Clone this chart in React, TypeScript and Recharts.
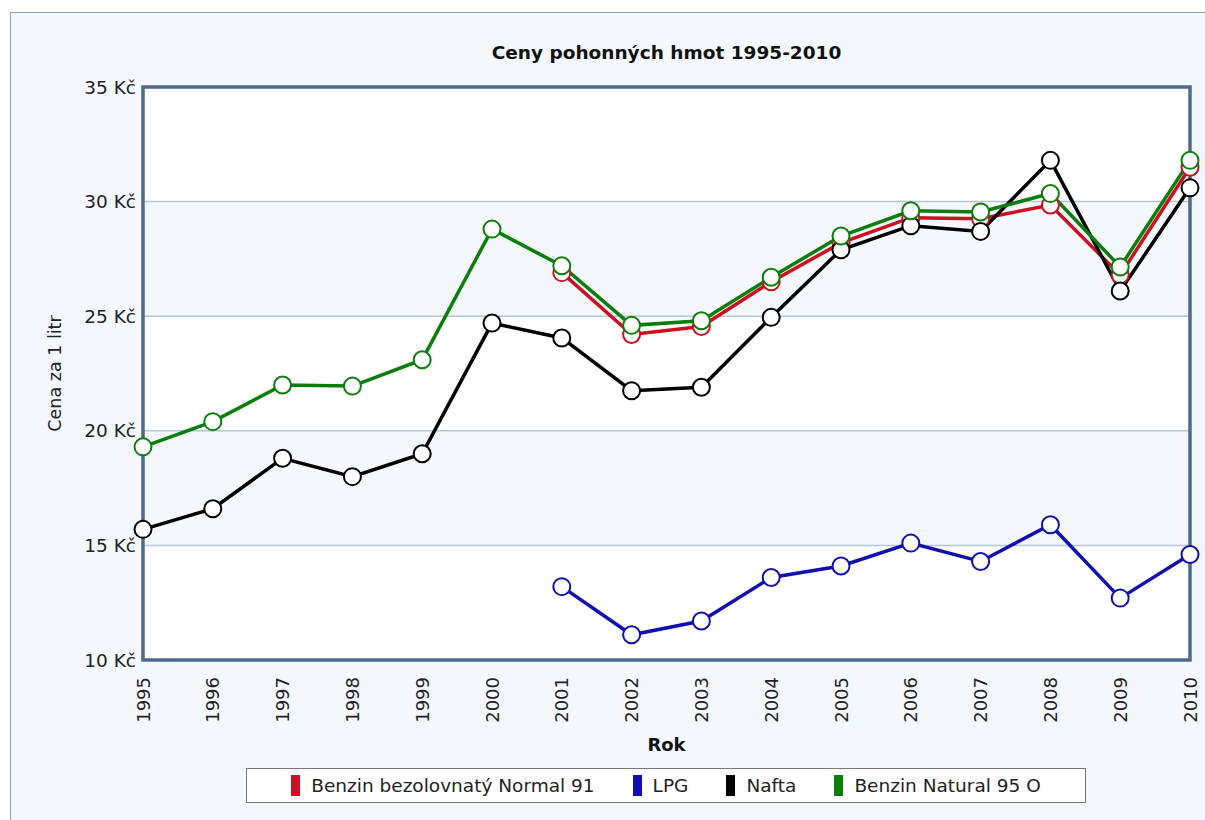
import { LineChart, Line, XAxis, YAxis, CartesianGrid, ReferenceArea } from 'recharts';

const years = [1995, 1996, 1997, 1998, 1999, 2000, 2001, 2002, 2003, 2004, 2005, 2006, 2007, 2008, 2009, 2010];
const normal91 = [null, null, null, null, null, null, 26.9, 24.2, 24.55, 26.5, 28.2, 29.3, 29.25, 29.85, 26.8, 31.5];
const lpg = [null, null, null, null, null, null, 13.2, 11.1, 11.7, 13.6, 14.1, 15.1, 14.3, 15.9, 12.7, 14.6];
const nafta = [15.7, 16.6, 18.8, 18.0, 19.0, 24.7, 24.05, 21.75, 21.9, 24.95, 27.9, 28.95, 28.7, 31.8, 26.1, 30.6];
const natural95 = [19.3, 20.4, 22.0, 21.95, 23.1, 28.8, 27.2, 24.6, 24.8, 26.7, 28.5, 29.6, 29.55, 30.35, 27.15, 31.8];
const yTicks = [10, 15, 20, 25, 30, 35];

const series = [
  { key: 'normal91', name: 'Benzin bezolovnatý Normal 91', color: '#cc1020' },
  { key: 'lpg', name: 'LPG', color: '#1010b0' },
  { key: 'nafta', name: 'Nafta', color: '#000000' },
  { key: 'natural95', name: 'Benzin Natural 95 O', color: '#0a7d0a' },
];

const data = years.map((rok, i) => ({
  rok,
  normal91: normal91[i],
  lpg: lpg[i],
  nafta: nafta[i],
  natural95: natural95[i],
}));

const font = '"DejaVu Sans", Verdana, sans-serif';

const YearTick = ({ x, y, payload }: any) => (
  <text
    x={x}
    y={y + 9}
    transform={`rotate(-90 ${x} ${y + 9})`}
    textAnchor="end"
    dominantBaseline="central"
    fontSize={18}
    fontFamily={font}
    fill="#222"
  >
    {payload.value}
  </text>
);

export default function App() {
  return (
    <div style={{ position: 'absolute', left: 0, top: 0, width: 1205, height: 820, overflow: 'hidden', background: '#fff' }}>
      <div
        style={{
          position: 'absolute',
          left: 10,
          top: 12,
          width: 1210,
          height: 820,
          background: '#f4f8fc',
          border: '1px solid #8ea6c6',
        }}
      />
      <div
        style={{
          position: 'absolute',
          left: 143,
          width: 1047,
          top: 42,
          textAlign: 'center',
          fontFamily: font,
          fontWeight: 'bold',
          fontSize: 18.5,
          color: '#111',
        }}
      >
        Ceny pohonných hmot 1995-2010
      </div>
      <div style={{ position: 'absolute', left: 0, top: 0 }}>
        <LineChart width={1205} height={820} data={data} margin={{ top: 87, right: 15, bottom: 100, left: 63 }}>
          <CartesianGrid
            vertical={false}
            stroke="#b4c4da"
            strokeWidth={1.5}
            horizontalFill={['#ffffff', '#f4f8fc']}
            fillOpacity={1}
          />
          <XAxis
            dataKey="rok"
            type="number"
            domain={[1995, 2010]}
            ticks={years}
            interval={0}
            axisLine={false}
            tickLine={false}
            tick={<YearTick />}
            height={60}
            label={{ value: 'Rok', position: 'center', dy: 55, fontFamily: font, fontWeight: 'bold', fontSize: 18, fill: '#111' }}
          />
          <YAxis
            domain={[10, 35]}
            ticks={yTicks}
            width={80}
            axisLine={false}
            tickLine={false}
            tickSize={0}
            tickMargin={7}
            tickFormatter={(v: number) => `${v} Kč`}
            tick={{ fontSize: 18.5, fontFamily: font, fill: '#222' }}
            label={{ value: 'Cena za 1 litr', angle: -90, position: 'center', dx: -48, fontFamily: font, fontSize: 17.5, fill: '#222' }}
          />
          <ReferenceArea x1={1995} x2={2010} y1={10} y2={35} fill="none" stroke="#4d6a8f" strokeWidth={3.5} ifOverflow="visible" />
          {series.map((s) => (
            <Line
              key={s.key}
              dataKey={s.key}
              name={s.name}
              stroke={s.color}
              strokeWidth={3.5}
              dot={{ r: 8.5, fill: '#fff', stroke: s.color, strokeWidth: 2 }}
              activeDot={false}
              isAnimationActive={false}
            />
          ))}
        </LineChart>
      </div>
      <div
        style={{
          position: 'absolute',
          left: 246,
          top: 768,
          width: 838,
          height: 33,
          background: '#fff',
          border: '1px solid #777',
          display: 'flex',
          alignItems: 'center',
          justifyContent: 'center',
          fontFamily: font,
          fontSize: 18.5,
          color: '#222',
        }}
      >
        {series.map((s, i) => (
          <div key={s.key} style={{ display: 'flex', alignItems: 'center', marginLeft: i === 0 ? 0 : 38 }}>
            <span style={{ display: 'inline-block', width: 9, height: 21, background: s.color, marginRight: 11 }} />
            <span>{s.name}</span>
          </div>
        ))}
      </div>
    </div>
  );
}
